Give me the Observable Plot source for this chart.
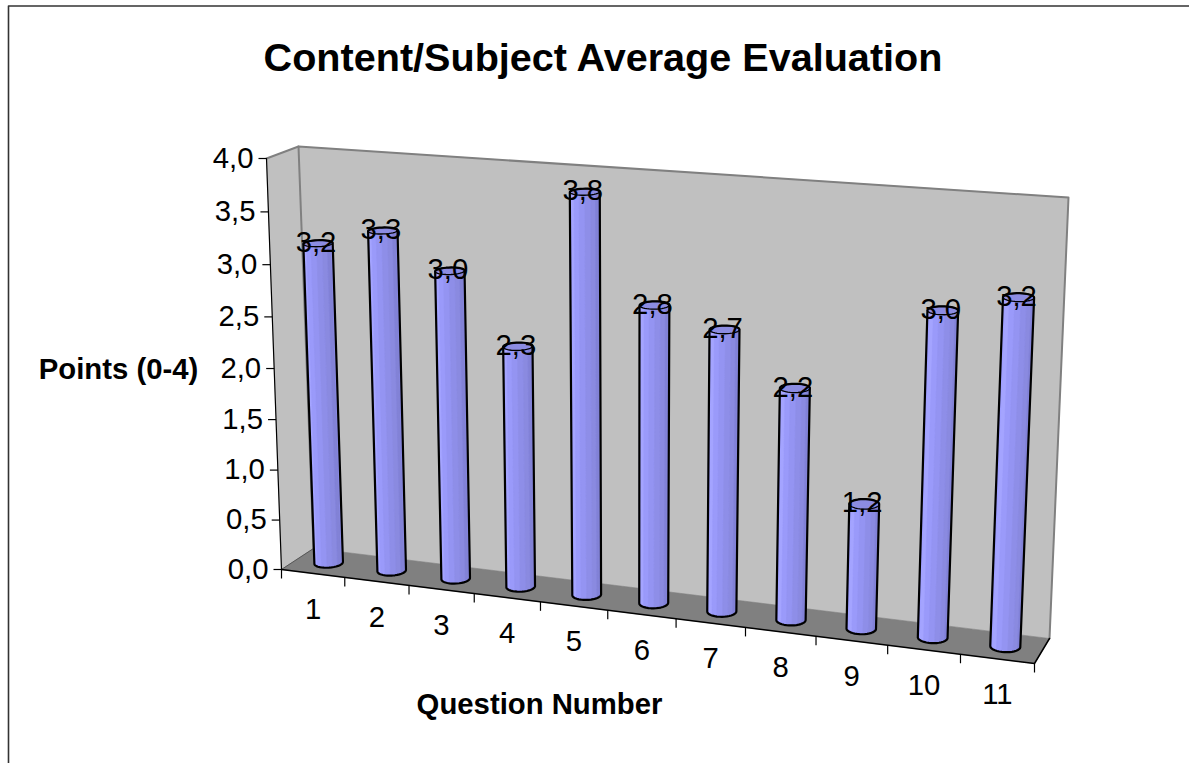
<!DOCTYPE html>
<html>
<head>
<meta charset="utf-8">
<style>html,body{margin:0;padding:0;background:#fff;overflow:hidden}svg{display:block}</style>
<script src="https://cdn.jsdelivr.net/npm/d3@7"></script>
<script src="https://cdn.jsdelivr.net/npm/@observablehq/plot@0.6"></script>
</head>
<body>
<script>
const chartTitle = "Content/Subject Average Evaluation";
const yTitle = "Points (0-4)";
const xTitle = "Question Number";
const questions = [1, 2, 3, 4, 5, 6, 7, 8, 9, 10, 11];
const values = [3.16, 3.33, 3.0, 2.34, 3.83, 2.84, 2.67, 2.19, 1.18, 3.01, 3.18];
const valueTicks = [0, 0.5, 1, 1.5, 2, 2.5, 3, 3.5, 4];
const W = 1189, H = 763;
const commaFormat = v => d3.format(".1f")(v).replace(".", ",");

// 3D box of the chart as seen on the page: q across, t in depth (0 front, 1 back), v up.
const box = {
  f0: [[281, 569], [1034, 663]], f4: [[266, 158], [1052, 214]],
  b0: [[313, 548], [1049, 638]], b4: [[298, 146], [1068, 197]]
};
const perspQ = 1.09, perspV = 1.045, qMin = 0.5, qMax = 11.5, vMax = 4;
const mix = (a, b, k) => [a[0] + (b[0] - a[0]) * k, a[1] + (b[1] - a[1]) * k];
const warp = (s, r) => s / (s + (1 - s) * r);
function project(q, t, v) {
  const w = warp((q - qMin) / (qMax - qMin), perspQ);
  const h = warp(v / vMax, perspV);
  const front = mix(mix(box.f0[0], box.f0[1], w), mix(box.f4[0], box.f4[1], w), h);
  const back = mix(mix(box.b0[0], box.b0[1], w), mix(box.b4[0], box.b4[1], w), h);
  return mix(front, back, t);
}
const poly = (fill, pts) => ({fill, pts});
const polyMark = (list) => {
  const data = list.flatMap((p, i) => [...p.pts, p.pts[0]].map(([x, y]) => ({x, y, id: i, fill: p.fill})));
  return Plot.line(data, {x: "x", y: "y", z: "id", fill: "fill", stroke: "fill", strokeWidth: 0.6, curve: "linear"});
};
const edge = (pts, stroke, strokeWidth) =>
  Plot.line(pts.map(([x, y]) => ({x, y})), {x: "x", y: "y", stroke, strokeWidth, curve: "linear"});

const q0 = qMin, q1 = qMax;
const walls = [
  poly("#c0c0c0", [project(q0, 0, 0), project(q0, 0, vMax), project(q0, 1, vMax), project(q0, 1, 0)]),
  poly("#c0c0c0", [project(q0, 1, 0), project(q0, 1, vMax), project(q1, 1, vMax), project(q1, 1, 0)]),
  poly("#808080", [project(q0, 0, 0), project(q0, 1, 0), project(q1, 1, 0), project(q1, 0, 0)])
];

// Cylinders
const radiusQ = 0.2, radiusT = 0.22, tMid = 0.5;
const facetColors = ["#9898fa", "#9c9cff", "#a4a4ff", "#9a9afa", "#9494f2", "#8e8ee8", "#8a8ae0", "#8282d6"];
const topColor = "#8c8ce2";
const ring = (q, v, a) => project(q + radiusQ * Math.cos(a), tMid + radiusT * Math.sin(a), v);
const circle = (q, v) => d3.range(36).map(i => ring(q, v, i / 36 * 2 * Math.PI));

const bars = questions.map((q, i) => {
  const v = values[i];
  const hull = d3.polygonHull([...circle(q, 0), ...circle(q, v)]);
  const facets = facetColors.map((c, k) => {
    const a0 = Math.PI + k / facetColors.length * Math.PI;
    const a1 = Math.PI + (k + 1) / facetColors.length * Math.PI;
    const steps = d3.range(5).map(s => a0 + (a1 - a0) * s / 4);
    return poly(c, [...steps.map(a => ring(q, 0, a)), ...steps.slice().reverse().map(a => ring(q, v, a))]);
  });
  return {hull, facets, top: circle(q, v)};
});

const barMarks = bars.flatMap(b => [
  polyMark([poly(facetColors[3], b.hull)]),
  polyMark(b.facets),
  polyMark([poly(topColor, b.top)]),
  edge([...b.top, b.top[0]], "#000", 1.3),
  edge([...b.hull, b.hull[0]], "#000", 2.2)
]);

const font = "'Liberation Sans', Arial, sans-serif";
const labelSize = 29.3;
const chart = Plot.plot({
  width: W, height: H,
  marginTop: 0, marginRight: 0, marginBottom: 0, marginLeft: 0,
  x: {domain: [0, W], range: [0, W], axis: null},
  y: {domain: [0, H], range: [0, H], axis: null},
  color: {type: "identity"},
  style: {fontFamily: font, background: "#fff", color: "#000"},
  marks: [
    // chart area border
    edge([[8, H + 4], [8, 5.5], [W + 4, 5.5]], "#333", 1.6),
    Plot.text([chartTitle], {x: () => 602.5, y: () => 58, text: d => d, fontSize: 39.6, fontWeight: 700, fill: "#000"}),
    Plot.text([yTitle], {x: () => 118, y: () => 369, text: d => d, fontSize: labelSize, fontWeight: 700, fill: "#000"}),
    Plot.text([xTitle], {x: () => 539, y: () => 704, text: d => d, fontSize: labelSize, fontWeight: 700, fill: "#000"}),
    polyMark(walls),
    edge([project(q0, 0, vMax), project(q0, 1, vMax), project(q1, 1, vMax), project(q1, 1, 0)], "#808080", 2),
    edge([project(q0, 1, vMax), project(q0, 1, 0)], "#808080", 2),
    edge([project(q0, 0, 0), project(q0, 1, 0)], "#555", 1),
    edge([project(q0, 0, 0), project(q0, 0, vMax)], "#000", 1.2),
    edge([project(q0, 0, 0), project(q1, 0, 0), project(q1, 1, 0)], "#000", 1.5),
    // value axis
    Plot.link(valueTicks, {
      x1: d => project(q0, 0, d)[0], y1: d => project(q0, 0, d)[1],
      x2: d => project(q0, 0, d)[0] - 8, y2: d => project(q0, 0, d)[1],
      stroke: "#000", strokeWidth: 1.2
    }),
    Plot.text(valueTicks, {
      x: d => project(q0, 0, d)[0], y: d => project(q0, 0, d)[1],
      text: commaFormat, textAnchor: "end", dx: -13, dy: 0, fontSize: labelSize, fill: "#000"
    }),
    // question axis
    Plot.link([qMin, ...questions.map(q => q + 0.5)], {
      x1: d => project(d, 0, 0)[0], y1: d => project(d, 0, 0)[1],
      x2: d => project(d, 0, 0)[0], y2: d => project(d, 0, 0)[1] + 9,
      stroke: "#000", strokeWidth: 1.2
    }),
    Plot.text(questions, {
      x: d => project(d, 0, 0)[0], y: d => project(d, 0, 0)[1],
      text: d => String(d), dy: 36, fontSize: labelSize, fill: "#000"
    }),
    ...barMarks,
    Plot.text(questions, {
      x: (d, i) => project(d, tMid, values[i])[0], y: (d, i) => project(d, tMid, values[i])[1],
      text: (d, i) => commaFormat(values[i]), dx: -2, dy: -1, fontSize: labelSize, fill: "#000"
    })
  ]
});
document.body.appendChild(chart);
</script>
</body>
</html>
